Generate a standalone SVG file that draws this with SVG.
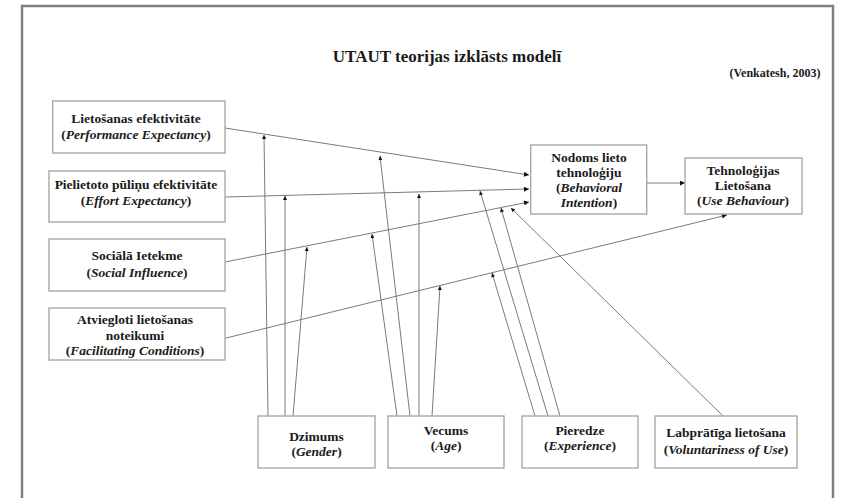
<svg xmlns="http://www.w3.org/2000/svg" width="841" height="498" viewBox="0 0 841 498">
<style>
.t{font-family:"Liberation Serif","Times New Roman",serif;font-weight:bold;fill:#1a1a1a;text-anchor:middle}
.b{font-size:13.5px}
.i{font-style:italic}
.box{fill:#fff;stroke:#a8a8a8;stroke-width:1.4}
.ln{stroke:#7a7a7a;stroke-width:1;fill:none}
.main{marker-end:url(#ah)}
.mod{marker-end:url(#dh)}
</style>
<defs>
<marker id="ah" viewBox="0 0 10 10" refX="10" refY="5" markerWidth="7" markerHeight="5" markerUnits="userSpaceOnUse" orient="auto"><path d="M0,0 L10,5 L0,10 z" fill="#111"/></marker>
<marker id="dh" viewBox="0 0 10 10" refX="10" refY="5" markerWidth="5" markerHeight="4" markerUnits="userSpaceOnUse" orient="auto"><path d="M0,0 L10,5 L0,10 z" fill="#111"/></marker>
</defs>
<rect x="0" y="0" width="841" height="498" fill="#fff"/>
<rect x="22" y="6" width="811" height="510" fill="none" stroke="#808080" stroke-width="2.5"/>
<g id="title">
<text class="t" x="447" y="62" font-size="17">UTAUT teorijas izklāsts modelī</text>
<text class="t" x="775" y="77" font-size="12">(Venkatesh, 2003)</text>
</g>
<g id="connectors">
<line class="ln main" x1="225" y1="128" x2="529" y2="175"/>
<line class="ln main" x1="225" y1="197" x2="529" y2="189"/>
<line class="ln main" x1="225" y1="262" x2="529" y2="202"/>
<line class="ln main" x1="222" y1="339" x2="727" y2="215"/>
<line class="ln main" x1="647" y1="183" x2="685" y2="183"/>
<line class="ln mod" x1="268" y1="416" x2="264" y2="135"/>
<line class="ln mod" x1="285" y1="416" x2="285" y2="196"/>
<line class="ln mod" x1="293" y1="416" x2="307" y2="247"/>
<line class="ln mod" x1="397" y1="416" x2="372" y2="234"/>
<line class="ln mod" x1="410" y1="416" x2="380" y2="156"/>
<line class="ln mod" x1="419" y1="416" x2="419" y2="194"/>
<line class="ln mod" x1="432" y1="416" x2="440" y2="286"/>
<line class="ln mod" x1="535" y1="416" x2="492" y2="273"/>
<line class="ln mod" x1="548" y1="416" x2="480" y2="191"/>
<line class="ln mod" x1="560" y1="416" x2="501" y2="208"/>
<line class="ln mod" x1="723" y1="416" x2="511" y2="208"/>
</g>
<g id="performance">
<rect class="box" x="52.7" y="101" width="172.3" height="52"/>
<text class="t b" x="136" y="123">Lietošanas efektivitāte</text>
<text class="t b" x="136" y="139">(<tspan class="i">Performance Expectancy</tspan>)</text>
</g>
<g id="effort">
<rect class="box" x="49" y="171" width="176" height="51"/>
<text class="t b" x="136" y="189">Pielietoto pūliņu efektivitāte</text>
<text class="t b" x="136" y="205">(<tspan class="i">Effort Expectancy</tspan>)</text>
</g>
<g id="social">
<rect class="box" x="49" y="239" width="176" height="52"/>
<text class="t b" x="137" y="260">Sociālā Ietekme</text>
<text class="t b" x="137" y="277">(<tspan class="i">Social Influence</tspan>)</text>
</g>
<g id="facilitating">
<rect class="box" x="49" y="308" width="176" height="52"/>
<text class="t b" x="135" y="324">Atviegloti lietošanas</text>
<text class="t b" x="135" y="340">noteikumi</text>
<text class="t b" x="135" y="355">(<tspan class="i">Facilitating Conditions</tspan>)</text>
</g>
<g id="intention">
<rect class="box" x="530.7" y="145" width="116" height="69"/>
<text class="t b" x="589" y="162">Nodoms lieto</text>
<text class="t b" x="589" y="177">tehnoloģiju</text>
<text class="t b" x="589" y="192">(<tspan class="i">Behavioral</tspan></text>
<text class="t b" x="589" y="207"><tspan class="i">Intention</tspan>)</text>
</g>
<g id="usebehaviour">
<rect class="box" x="685" y="158" width="117" height="56"/>
<text class="t b" x="743" y="175">Tehnoloģijas</text>
<text class="t b" x="743" y="190">Lietošana</text>
<text class="t b" x="743" y="205">(<tspan class="i">Use Behaviour</tspan>)</text>
</g>
<g id="gender">
<rect class="box" x="258" y="416" width="117" height="52"/>
<text class="t b" x="316.5" y="441">Dzimums</text>
<text class="t b" x="316.5" y="456">(<tspan class="i">Gender</tspan>)</text>
</g>
<g id="age">
<rect class="box" x="388" y="416" width="116" height="52"/>
<text class="t b" x="446" y="435">Vecums</text>
<text class="t b" x="446" y="450">(<tspan class="i">Age</tspan>)</text>
</g>
<g id="experience">
<rect class="box" x="522" y="416" width="116" height="52"/>
<text class="t b" x="580" y="435">Pieredze</text>
<text class="t b" x="580" y="450">(<tspan class="i">Experience</tspan>)</text>
</g>
<g id="voluntariness">
<rect class="box" x="655" y="416" width="142" height="52"/>
<text class="t b" x="726" y="437">Labprātīga lietošana</text>
<text class="t b" x="726" y="454">(<tspan class="i">Voluntariness of Use</tspan>)</text>
</g>
</svg>
